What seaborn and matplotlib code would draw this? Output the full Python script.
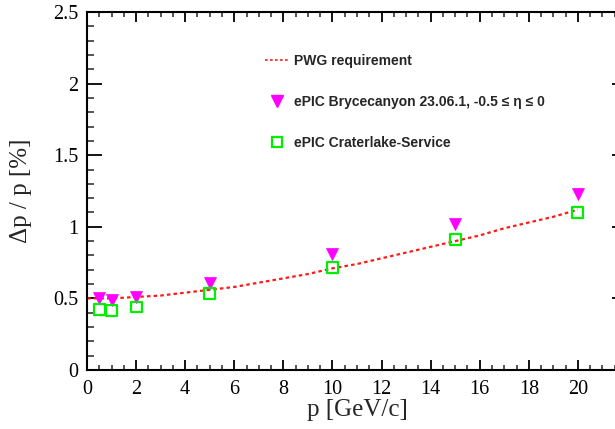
import numpy as np
import pandas as pd
import matplotlib
matplotlib.use("Agg")
import matplotlib.pyplot as plt
import seaborn as sns
from matplotlib.ticker import MultipleLocator, FuncFormatter
from matplotlib.lines import Line2D

# ---- data ----
p_points = [0.5, 1, 2, 5, 10, 15, 20]
bryce_vals = [0.50, 0.49, 0.51, 0.61, 0.81, 1.02, 1.23]
crater_vals = [0.42, 0.415, 0.44, 0.535, 0.717, 0.91, 1.10]

pwg_p = [0, 1, 2, 3, 4, 5, 6, 7, 8, 9, 10, 11, 12, 13, 14, 15, 16, 17, 18, 19, 20]
pwg_vals = [0.50, 0.50, 0.51, 0.52, 0.54, 0.56, 0.58, 0.61, 0.64, 0.67, 0.71,
            0.74, 0.78, 0.82, 0.86, 0.90, 0.94, 0.99, 1.03, 1.07, 1.12]

labels = ["PWG requirement",
          "ePIC Brycecanyon 23.06.1, -0.5 \u2264 \u03b7 \u2264 0",
          "ePIC Craterlake-Service"]

sns.set_theme(style="ticks")
plt.rcParams["font.family"] = ["Liberation Serif", "DejaVu Serif"]

fig = plt.figure(figsize=(6.15, 4.29), dpi=100)
W, H = 615, 429
ax = fig.add_axes([87 / W, (H - 370) / H, (627 - 87) / W, (370 - 12) / H])

pwg_df = pd.DataFrame({"p": pwg_p, "v": pwg_vals})
sns.lineplot(data=pwg_df, x="p", y="v", ax=ax, color="#ff1a1a",
             linestyle=(0, (1.6, 1.4)), linewidth=1.6, zorder=2)

b_df = pd.DataFrame({"p": p_points, "v": bryce_vals})
c_df = pd.DataFrame({"p": p_points, "v": crater_vals})
sns.scatterplot(data=b_df, x="p", y="v", ax=ax, marker="v", s=75,
                color="#ff00ff", edgecolor="#ff00ff", linewidth=0.5, zorder=3)
sns.scatterplot(data=c_df, x="p", y="v", ax=ax, marker="s", s=62,
                facecolor="none", edgecolor="#00ee00", linewidth=1.6, zorder=4)

ax.set_xlim(0, 22)
ax.set_ylim(0, 2.5)

ax.xaxis.set_major_locator(MultipleLocator(2))
ax.xaxis.set_minor_locator(MultipleLocator(0.5))
ax.yaxis.set_major_locator(MultipleLocator(0.5))
ax.yaxis.set_minor_locator(MultipleLocator(0.1))
ax.xaxis.set_major_formatter(FuncFormatter(lambda v, pos: f"{v:g}" if v <= 21 else ""))
ax.yaxis.set_major_formatter(FuncFormatter(lambda v, pos: f"{v:g}"))

for s in ax.spines.values():
    s.set_linewidth(1.5)
    s.set_color("black")

ax.tick_params(axis="x", which="major", direction="in", length=7.5, width=1.3,
               top=True, bottom=True, labelsize=14.5, pad=7, colors="black")
ax.tick_params(axis="x", which="minor", direction="in", length=3.8, width=1.1,
               top=True, bottom=True)
ax.tick_params(axis="y", which="major", direction="in", length=10.5, width=1.3,
               left=True, right=True, labelsize=14.5, pad=6.5, colors="black")
ax.tick_params(axis="y", which="minor", direction="in", length=5.2, width=1.1,
               left=True, right=True)

ax.set_xlabel("p [GeV/c]", fontsize=18)
ax.set_ylabel("\u0394p / p [%]", fontsize=18)
ax.xaxis.set_label_coords(0.5, -0.08)
ax.yaxis.set_label_coords(-0.102, 0.5)
ax.grid(False)

handles = [
    Line2D([], [], color="#ff1a1a", linestyle=(0, (1.6, 1.4)), linewidth=1.2),
    Line2D([], [], color="#ff00ff", marker="v", linestyle="none", markersize=8.5),
    Line2D([], [], color="#00ee00", marker="s", markerfacecolor="none",
           markeredgewidth=1.6, linestyle="none", markersize=7.5),
]
leg = fig.legend(handles, labels, loc="upper left",
                 bbox_to_anchor=(265 / W, 1 - 54 / H), frameon=False,
                 prop={"family": ["Liberation Sans", "DejaVu Sans"],
                       "weight": "bold", "size": 10},
                 handlelength=1.7, handletextpad=0.4, labelspacing=1.95,
                 borderpad=0, borderaxespad=0)

fig.savefig("out.png", dpi=100)
